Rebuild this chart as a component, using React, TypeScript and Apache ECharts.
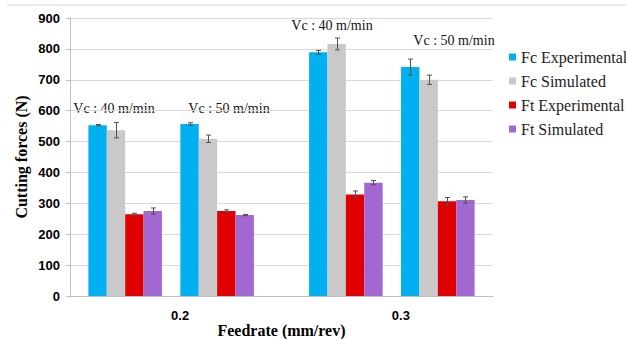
import React, { useEffect, useRef } from "react";
import * as echarts from "echarts";

const feedrates = ["0.2", "0.3"];
const speedLabels = ["Vc : 40 m/min", "Vc : 50 m/min", "Vc : 40 m/min", "Vc : 50 m/min"];
const seriesNames = ["Fc Experimental", "Fc Simulated", "Ft Experimental", "Ft Simulated"];
const fcExp = [553, 557, 789, 741];
const fcExpErr = [2, 4, 6, 26];
const fcSim = [537, 509, 816, 700];
const fcSimErr = [25, 12, 19, 15];
const ftExp = [265, 275, 329, 307];
const ftExpErr = [3, 4, 11, 12];
const ftSim = [275, 262, 367, 311];
const ftSimErr = [10, 2, 7, 10];
const yMin = 0;
const yMax = 900;
const yStep = 100;

const colors = ["#00B0F0", "#C9C9C9", "#E00000", "#A268D2"];

// slot layout: spacer, group, spacer, group, 3 spacers, group, spacer, group, spacer
const groupStart = [1, 6, 13, 18];
const slotCount = 23;

export default function App() {
  const ref = useRef<HTMLDivElement>(null);
  useEffect(() => {
    if (!ref.current) return;
    const chart = echarts.init(ref.current, null, { renderer: "svg" });
    const values = [fcExp, fcSim, ftExp, ftSim];
    const errs = [fcExpErr, fcSimErr, ftExpErr, ftSimErr];
    const slotLabels: string[] = Array(slotCount).fill("");
    feedrates.forEach((f, i) => {
      slotLabels[groupStart[i * 2] + 4] = f;
    });
    const barSeries = values.map((vals, s) => {
      const data: any[] = Array(slotCount).fill("-");
      vals.forEach((v, g) => {
        data[groupStart[g] + s] = v;
      });
      return {
        name: seriesNames[s],
        type: "bar",
        stack: "all",
        barWidth: "100%",
        data,
        itemStyle: { color: colors[s] },
      };
    });
    const errData: number[][] = [];
    values.forEach((vals, s) => {
      vals.forEach((v, g) => {
        errData.push([groupStart[g] + s, v - errs[s][g], v + errs[s][g]]);
      });
    });
    const serif = "'Liberation Serif', 'Times New Roman', serif";
    const sans = "'Liberation Sans', Arial, sans-serif";
    const annPos = [
      [114, 108],
      [229, 108],
      [332, 25],
      [454, 40],
    ];
    chart.setOption({
      animation: false,
      legend: {
        data: seriesNames,
        orient: "vertical",
        left: 509,
        top: 49,
        padding: 0,
        icon: "rect",
        itemWidth: 7,
        itemHeight: 7,
        itemGap: 8,
        textStyle: { fontFamily: serif, fontSize: 16, color: "#222", lineHeight: 16, overflow: "none", width: 200 },
      },
      grid: { left: 70, right: 133, top: 18, bottom: 43, outerBoundsMode: "none", containLabel: false },
      xAxis: {
        type: "category",
        data: slotLabels,
        name: "Feedrate (mm/rev)",
        nameLocation: "middle",
        nameGap: 26,
        nameMoveOverlap: false,
        nameTextStyle: { fontFamily: serif, fontSize: 16, fontWeight: "bold", color: "#000" },
        axisLine: { lineStyle: { color: "#BFBFBF" } },
        axisTick: { show: false },
        axisLabel: {
          interval: 0,
          margin: 13,
          fontFamily: sans,
          fontWeight: "bold",
          fontSize: 13,
          color: "#000",
          padding: [0, 0, 0, 18],
        },
      },
      yAxis: {
        type: "value",
        min: yMin,
        max: yMax,
        interval: yStep,
        name: "Cutting forces (N)",
        nameLocation: "middle",
        nameGap: 41,
        nameMoveOverlap: false,
        nameTextStyle: { fontFamily: serif, fontSize: 16, fontWeight: "bold", color: "#000" },
        axisLine: { show: true, lineStyle: { color: "#BFBFBF" } },
        axisTick: { show: true, length: 4, lineStyle: { color: "#BFBFBF" } },
        splitLine: { lineStyle: { color: "#D9D9D9" } },
        axisLabel: { fontFamily: sans, fontWeight: "bold", fontSize: 13, color: "#000", margin: 10 },
      },
      graphic: [
        { type: "line", shape: { x1: 7, y1: 5, x2: 626, y2: 5 }, style: { stroke: "#D9D9D9", lineWidth: 1 } },
        ...speedLabels.map((t, i) => ({
          type: "text",
          x: annPos[i][0],
          y: annPos[i][1],
          style: {
            text: t,
            fontFamily: serif,
            fontSize: 14,
            fill: "#111",
            textAlign: "center",
            textVerticalAlign: "middle",
          },
        })),
      ],
      series: [
        ...barSeries,
        {
          type: "custom",
          data: errData,
          z: 10,
          renderItem: (params: any, api: any) => {
            const x = api.value(0);
            const lo = api.coord([x, api.value(1)]);
            const hi = api.coord([x, api.value(2)]);
            const cx = Math.round(lo[0]) + 0.5;
            const w = 2.5;
            const st = { stroke: "#505050", lineWidth: 1 };
            return {
              type: "group",
              children: [
                { type: "line", shape: { x1: cx, y1: lo[1], x2: cx, y2: hi[1] }, style: st },
                { type: "line", shape: { x1: cx - w, y1: lo[1], x2: cx + w, y2: lo[1] }, style: st },
                { type: "line", shape: { x1: cx - w, y1: hi[1], x2: cx + w, y2: hi[1] }, style: st },
              ],
            };
          },
        },
      ],
    });
    return () => chart.dispose();
  }, []);
  return (
    <div
      ref={ref}
      style={{ position: "fixed", left: 0, top: 0, width: 626, height: 339, background: "#fff" }}
    />
  );
}
